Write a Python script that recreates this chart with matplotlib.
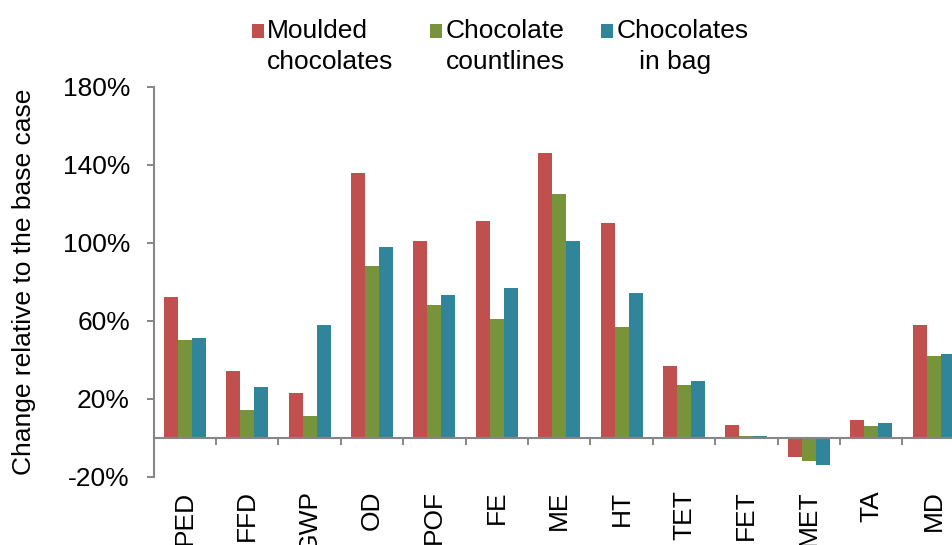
import numpy as np
import matplotlib
matplotlib.use("Agg")
import matplotlib.pyplot as plt
from matplotlib.ticker import PercentFormatter, FixedLocator
from matplotlib.patches import Rectangle
from matplotlib.legend_handler import HandlerPatch

plt.rcParams['font.family'] = ['Liberation Sans', 'DejaVu Sans']
plt.rcParams['axes.unicode_minus'] = False

# data (percent change vs base case)
categories = ["PED", "FFD", "GWP", "OD", "POF", "FE", "ME", "HT",
              "TET", "FET", "MET", "TA", "MD"]
series_names = ["Moulded\nchocolates", "Chocolate\ncountlines", "Chocolates\n   in bag"]
moulded = [72, 34, 23, 136, 101, 111, 146, 110, 37, 6.5, -10, 9, 58]
countlines = [50, 14, 11, 88, 68, 61, 125, 57, 27, 1, -12, 6, 42]
in_bag = [51, 26, 58, 98, 73, 77, 101, 74, 29, 1, -14, 7.5, 43]
yticks = [-20, 20, 60, 100, 140, 180]

colors = ["#C0504D", "#77933C", "#31859B"]
axis_grey = "#868686"
fs = 19

fig = plt.figure(figsize=(9.53, 5.45), dpi=100)
ax = fig.add_axes([0.1611, 0.1253, 0.8512, 0.7156])

x = np.arange(len(categories))
w = 0.2244
bars = []
for i, (vals, c) in enumerate(zip([moulded, countlines, in_bag], colors)):
    b = ax.bar(x + (i - 1) * w, vals, width=w, color=c, zorder=2)
    bars.append(b)

ax.set_xlim(-0.5, len(categories) - 0.5)
ax.set_ylim(-20, 180)

# y axis
ax.yaxis.set_major_locator(FixedLocator(yticks))
ax.yaxis.set_major_formatter(PercentFormatter(decimals=0))
ax.tick_params(axis='y', length=5, width=1.4, color=axis_grey, pad=12, labelsize=fs)
ax.set_ylabel("Change relative to the base case", fontsize=fs, va='center')
ax.yaxis.set_label_coords(-0.16, 0.5)

# x axis drawn at zero, separators as minor ticks
ax.spines['bottom'].set_position(('data', 0))
ax.set_xticks(x)
ax.set_xticklabels(categories, rotation=90)
ax.set_xticks(np.arange(0.5, len(categories) - 0.5, 1), minor=True)
ax.tick_params(axis='x', which='major', length=0, pad=38, labelsize=fs)
ax.tick_params(axis='x', which='minor', length=5, width=1.4, color=axis_grey, direction='out')

for s in ['top', 'right']:
    ax.spines[s].set_visible(False)
for s in ['left', 'bottom']:
    ax.spines[s].set_color(axis_grey)
    ax.spines[s].set_linewidth(1.5)


# legend square sits next to the first line of the two-line label
def top_square(legend, orig_handle, xdescent, ydescent, width, height, fontsize):
    return Rectangle((-xdescent, -ydescent + 0.6 * fontsize), width, height)


leg = fig.legend([b[0] for b in bars], series_names, loc='upper center',
                 bbox_to_anchor=(0.525, 0.994), ncol=3, frameon=False, fontsize=fs,
                 handlelength=0.45, handleheight=0.45, handletextpad=0.12,
                 columnspacing=1.4, borderaxespad=0.2,
                 handler_map={Rectangle: HandlerPatch(patch_func=top_square)})
for t in leg.get_texts():
    t.set_multialignment('left')
    t.set_linespacing(1.35)

fig.savefig("out.png", dpi=100)
